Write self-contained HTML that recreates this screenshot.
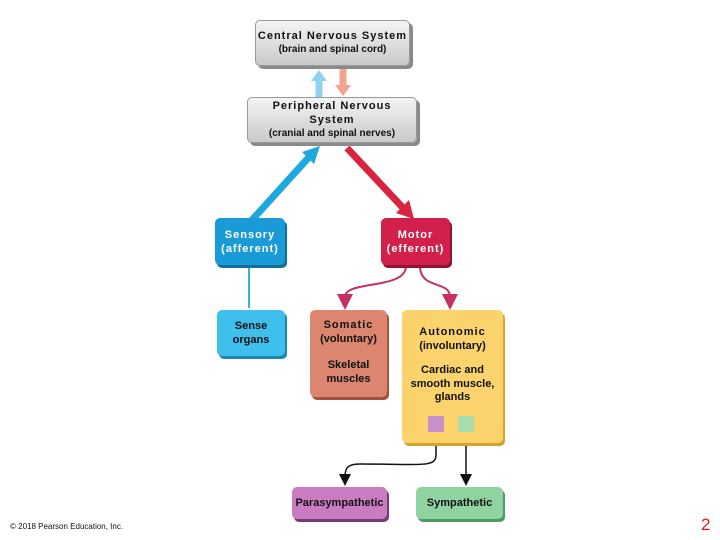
<!DOCTYPE html>
<html><head><style>
body{margin:0;width:720px;height:540px;background:#fff;position:relative;overflow:hidden;font-family:"Liberation Sans",Arial,sans-serif}
.b{position:absolute;box-sizing:border-box;border-radius:5px;text-align:center;font-weight:bold;font-size:11px;line-height:14px;display:flex;flex-direction:column;justify-content:center}
.g{background:linear-gradient(#f4f4f4,#c9c9c9);border:1px solid #999;box-shadow:3px 3px 0 #8a8a8a;color:#111}
.w{color:#fff;letter-spacing:1px}
</style></head><body>
<svg width="720" height="540" style="position:absolute;left:0;top:0">
<defs>
<marker id="mp" markerWidth="8" markerHeight="8" refX="4" refY="4" orient="auto"><path d="M0,0L8,4L0,8z" fill="#c8315e"/></marker>
<marker id="mk" markerWidth="8" markerHeight="8" refX="4" refY="4" orient="auto"><path d="M0,0L8,4L0,8z" fill="#111"/></marker>
</defs>
<line x1="319" y1="97" x2="319" y2="80" stroke="#8fd3f2" stroke-width="7"/>
<path d="M311,81L319,70L327,81z" fill="#8fd3f2"/>
<line x1="343" y1="68" x2="343" y2="86" stroke="#f2a48e" stroke-width="7"/>
<path d="M335,85L343,96L351,85z" fill="#f2a48e"/>
<line x1="252" y1="220" x2="310" y2="156" stroke="#1ea8e0" stroke-width="7"/>
<path d="M302,152L320,146L314,164z" fill="#1ea8e0"/>
<line x1="347" y1="148" x2="405" y2="210" stroke="#d8243f" stroke-width="7"/>
<path d="M396,213L414,219L409,200z" fill="#d8243f"/>
<line x1="249" y1="266" x2="249" y2="308" stroke="#3aaee0" stroke-width="2"/>
<path d="M406,266C406,290 345,280 345,297L345,302" fill="none" stroke="#c8315e" stroke-width="2" marker-end="url(#mp)"/>
<path d="M420,266C420,290 450,280 450,297L450,302" fill="none" stroke="#c8315e" stroke-width="2" marker-end="url(#mp)"/>
<path d="M436,432L436,455C436,468 420,464 360,464C345,464 345,470 345,480" fill="none" stroke="#111" stroke-width="1.5" marker-end="url(#mk)"/>
<path d="M466,432L466,480" fill="none" stroke="#111" stroke-width="1.5" marker-end="url(#mk)"/>
</svg>
<div class="b g" style="left:255px;top:20px;width:155px;height:46px"><span style="letter-spacing:1px">Central Nervous System</span><span style="font-size:10px">(brain and spinal cord)</span></div>
<div class="b g" style="left:247px;top:97px;width:170px;height:46px"><span style="letter-spacing:1px">Peripheral Nervous System</span><span style="font-size:10px">(cranial and spinal nerves)</span></div>
<div class="b w" style="left:215px;top:218px;width:70px;height:47px;background:#1a9ad6;box-shadow:2px 3px 0 #0f6f9e">Sensory<br>(afferent)</div>
<div class="b w" style="left:381px;top:218px;width:69px;height:47px;background:#d21f4b;box-shadow:2px 3px 0 #8e1432">Motor<br>(efferent)</div>
<div class="b" style="left:217px;top:310px;width:68px;height:46px;background:#3fc0ec;box-shadow:2px 3px 0 #1d86b4;color:#111">Sense<br>organs</div>
<div class="b" style="left:310px;top:310px;width:77px;height:87px;background:#dc8670;box-shadow:2px 3px 0 #a2523e;color:#111;justify-content:flex-start;padding-top:8px"><span style="letter-spacing:1px">Somatic</span><span>(voluntary)</span><span style="margin-top:12px">Skeletal<br>muscles</span></div>
<div class="b" style="left:402px;top:310px;width:101px;height:133px;background:#fbd36c;box-shadow:2px 3px 0 #d4a32e;color:#111;justify-content:flex-start;padding-top:15px"><span style="letter-spacing:1px">Autonomic</span><span>(involuntary)</span><span style="margin-top:11px;line-height:13.5px">Cardiac and<br>smooth muscle,<br>glands</span></div>
<div style="position:absolute;left:428px;top:416px;width:16px;height:16px;background:#c890c8"></div>
<div style="position:absolute;left:458px;top:416px;width:16px;height:16px;background:#a8ddb0"></div>
<div class="b" style="left:292px;top:487px;width:95px;height:32px;background:#c97cc2;box-shadow:2px 3px 0 #7a3c75;color:#111">Parasympathetic</div>
<div class="b" style="left:416px;top:487px;width:87px;height:32px;background:#8fd3a0;box-shadow:2px 3px 0 #4f9a62;color:#111">Sympathetic</div>
<div style="position:absolute;left:10px;top:522px;font-size:8px;color:#111">© 2018 Pearson Education, Inc.</div>
<div style="position:absolute;left:701px;top:515px;font-size:17px;color:#e0201e">2</div>
</body></html>
